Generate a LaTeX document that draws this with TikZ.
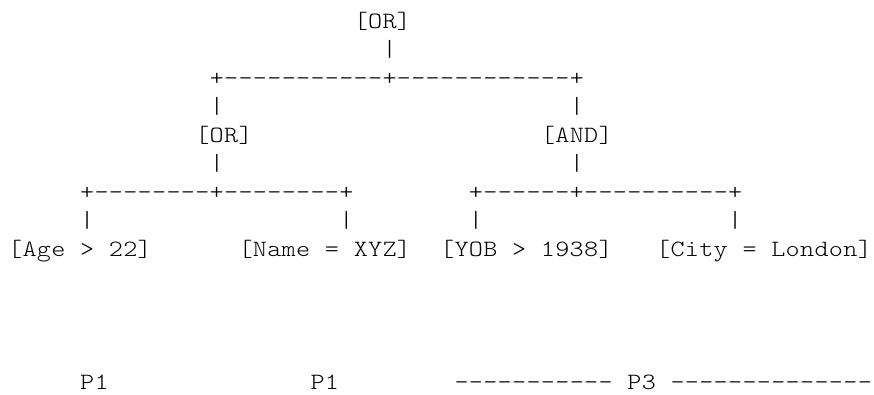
\documentclass[tikz,border=0pt]{standalone}
\usepackage{fontspec}
\newfontfamily\asciifont{lmmonolt10-regular}[Extension=.otf,FakeStretch=1.15]
\tikzset{
  mono/.style={font=\asciifont\fontsize{17.5pt}{20pt}\selectfont, anchor=base west, inner sep=0pt, outer sep=0pt, text=black},
}
% fixed-width cells: every character sits centred in a 14.4px (10.8pt) cell; '.' stands for a space
\makeatletter
\newcommand\fw[1]{\fw@loop#1\relax}
\def\fw@loop#1{\ifx\relax#1\else\fw@cell{#1}\expandafter\fw@loop\fi}
\def\fw@cell#1{\ifx.#1\hbox to 10.8pt{}\else\hbox to 10.8pt{\hss#1\hss}\fi}
\makeatother
% column -> x (px), row -> baseline y (px)
\newcommand{\cx}[1]{8+14.4*#1}
\newcommand{\ry}[1]{28+28.5*#1}
\begin{document}
\begin{tikzpicture}[x=0.75pt,y=-0.75pt]
\useasboundingbox (0,0) rectangle (874,394);
% row 0
\node[mono] (root) at ({\cx{24}},{\ry{0}}) {\fw{[OR]}};
% row 1
\node[mono] (v1) at ({\cx{26}},{\ry{1}}) {\fw{|}};
% row 2
\node[mono] (h1) at ({\cx{14}},{\ry{2}}) {\fw{+-----------+------------+}};
% row 3
\node[mono] (v2l) at ({\cx{14}},{\ry{3}}) {\fw{|}};
\node[mono] (v2r) at ({\cx{39}},{\ry{3}}) {\fw{|}};
% row 4
\node[mono] (or2) at ({\cx{13}},{\ry{4}}) {\fw{[OR]}};
\node[mono] (and) at ({\cx{37}},{\ry{4}}) {\fw{[AND]}};
% row 5
\node[mono] (v3l) at ({\cx{14}},{\ry{5}}) {\fw{|}};
\node[mono] (v3r) at ({\cx{39}},{\ry{5}}) {\fw{|}};
% row 6
\node[mono] (h2l) at ({\cx{5}},{\ry{6}}) {\fw{+--------+--------+}};
\node[mono] (h2r) at ({\cx{32}},{\ry{6}}) {\fw{+------+----------+}};
% row 7
\node[mono] (v4a) at ({\cx{5}},{\ry{7}}) {\fw{|}};
\node[mono] (v4b) at ({\cx{23}},{\ry{7}}) {\fw{|}};
\node[mono] (v4c) at ({\cx{32}},{\ry{7}}) {\fw{|}};
\node[mono] (v4d) at ({\cx{50}},{\ry{7}}) {\fw{|}};
% row 8
\node[mono] (age)  at ({\cx{0}},{\ry{8}})  {\fw{[Age.>.22]}};
\node[mono] (name) at ({\cx{16}},{\ry{8}}) {\fw{[Name.=.XYZ]}};
\node[mono] (yob)  at ({\cx{30}},{\ry{8}}) {\fw{[YOB.>.1938]}};
\node[mono] (city) at ({\cx{45}},{\ry{8}}) {\fw{[City.=.London]}};
% partition line
\node[mono] (p1a) at ({\cx{5}},389) {\fw{P1}};
\node[mono] (p1b) at ({\cx{21}},389) {\fw{P1}};
\node[mono] (p3)  at ({\cx{31}},389) {\fw{-----------.P3.--------------}};
\end{tikzpicture}
\end{document}
